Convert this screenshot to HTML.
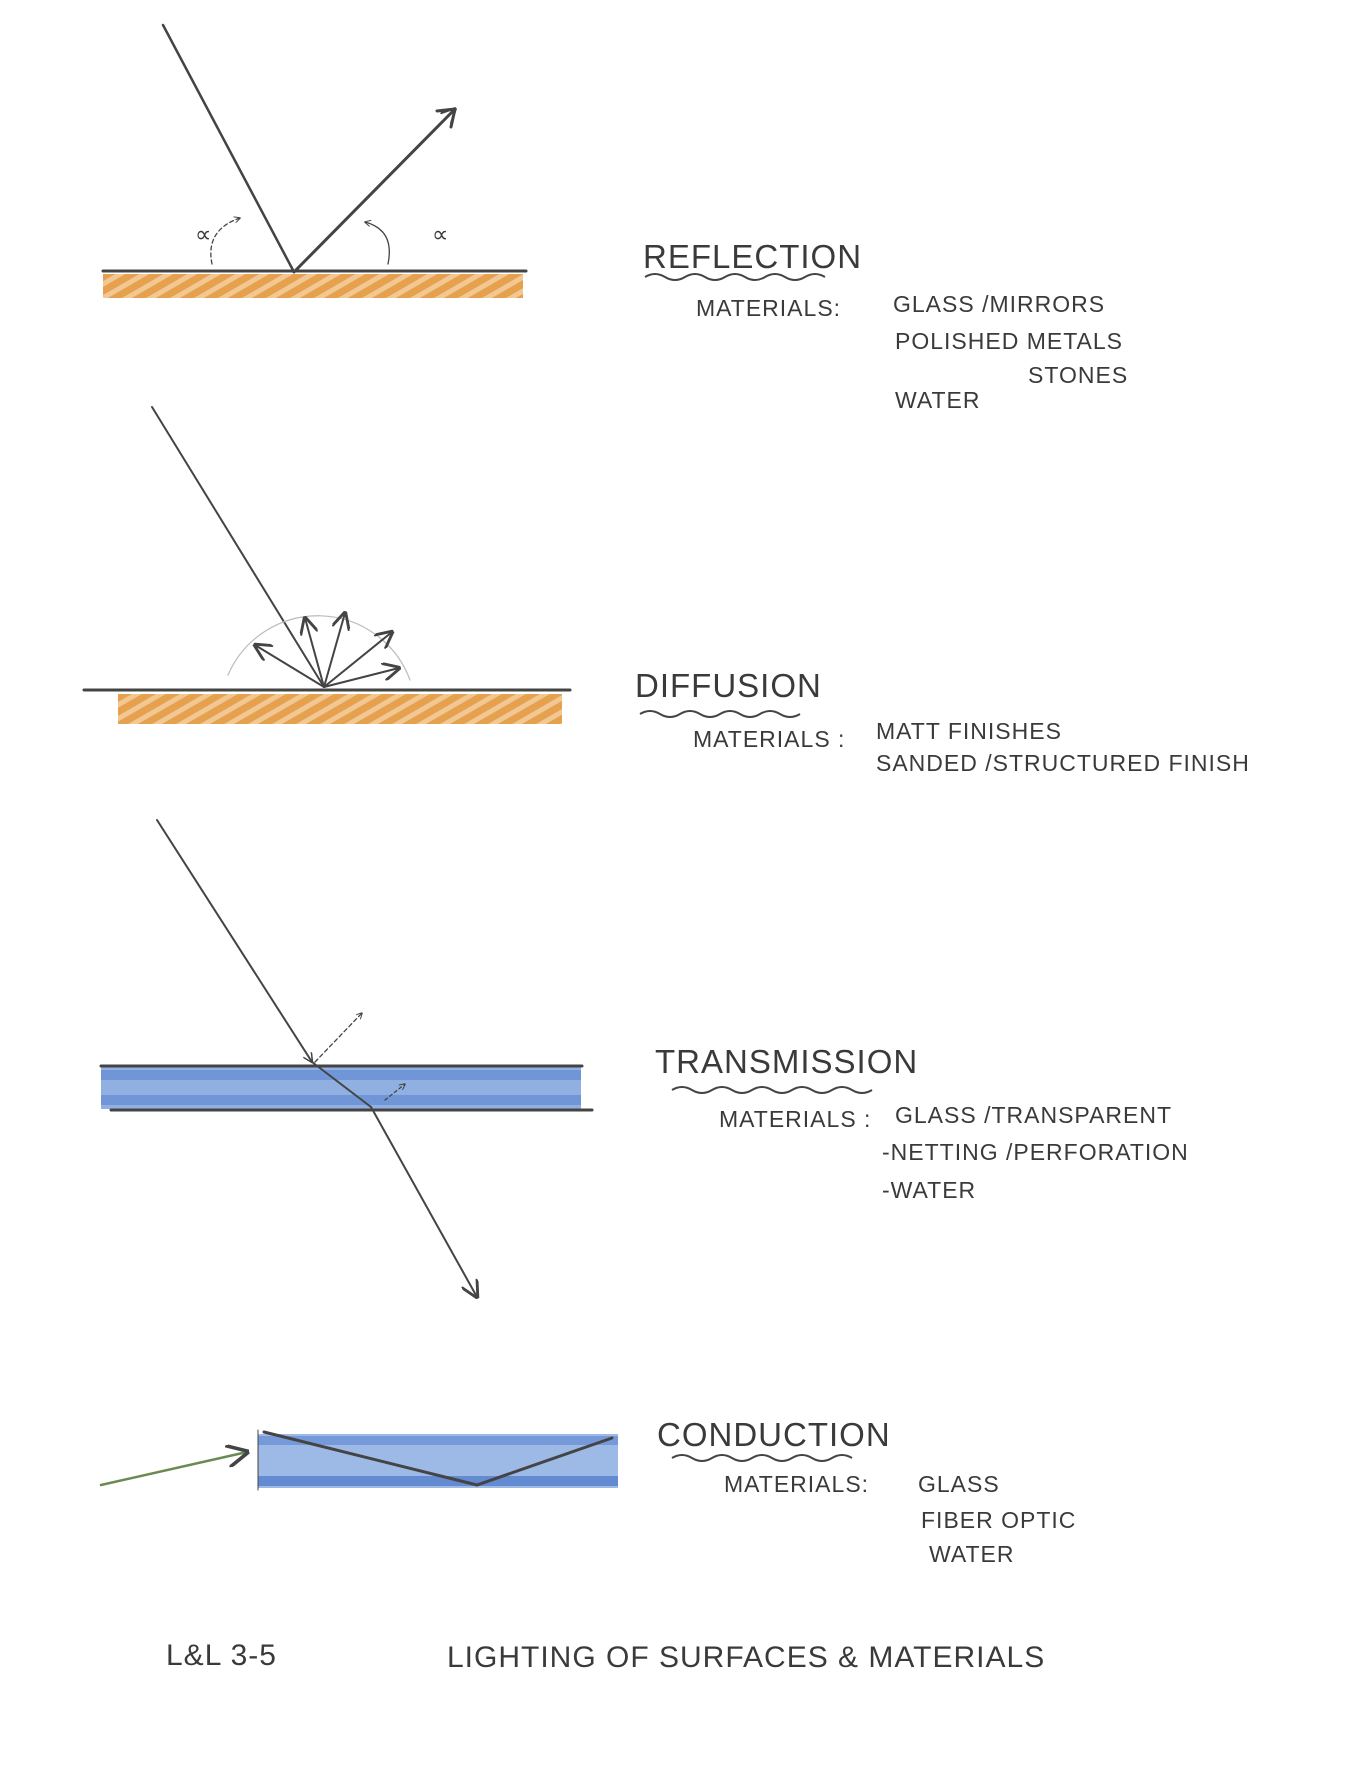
<!DOCTYPE html>
<html><head><meta charset="utf-8"><style>
html,body{margin:0;padding:0;background:#fff}
svg{display:block}
text{font-family:"Liberation Sans",sans-serif;fill:#3a3a3a}
.t{font-size:33px;letter-spacing:1px}
.m{font-size:23px;letter-spacing:1px}
</style></head><body>
<svg width="1348" height="1769" viewBox="0 0 1348 1769" xmlns="http://www.w3.org/2000/svg">
<defs>
<pattern id="h" width="12" height="12" patternUnits="userSpaceOnUse" patternTransform="rotate(-30)">
<rect width="12" height="12" fill="#f0bd80"/><rect width="12" height="7" fill="#e0902e"/>
</pattern>
<marker id="a" viewBox="0 0 10 10" refX="9" refY="5" markerWidth="9" markerHeight="9" orient="auto-start-reverse"><path d="M0 0 L10 5 L0 10" fill="none" stroke="#444" stroke-width="1.6"/></marker>
<marker id="s" viewBox="0 0 10 10" refX="9" refY="5" markerWidth="5" markerHeight="5" orient="auto"><path d="M0 0 L10 5 L0 10" fill="none" stroke="#444" stroke-width="1.5"/></marker>
</defs>
<g stroke="#444" fill="none" stroke-linecap="round">
<!-- Reflection -->
<rect x="103" y="274" width="420" height="24" fill="url(#h)" stroke="none" opacity="0.85"/>
<line x1="103" y1="271" x2="526" y2="271" stroke-width="3"/>
<line x1="163" y1="25" x2="294" y2="272" stroke-width="2.5"/>
<line x1="294" y1="272" x2="455" y2="109" stroke-width="3" marker-end="url(#s)" />
<path d="M455 109 l-18 2 M455 109 l-4 18" stroke-width="3"/>
<path d="M212 264 Q205 230 240 218" stroke-width="1.3" stroke-dasharray="4 3" marker-end="url(#s)"/>
<path d="M388 264 Q395 230 365 222" stroke-width="1.3" marker-end="url(#s)"/>
<!-- Diffusion -->
<rect x="118" y="694" width="444" height="30" fill="url(#h)" stroke="none" opacity="0.85"/>
<line x1="84" y1="690" x2="570" y2="690" stroke-width="3"/>
<line x1="152" y1="407" x2="324" y2="687" stroke-width="2"/>
<path d="M228 675 A98 98 0 0 1 410 680" stroke="#bbb" stroke-width="1.2"/>
<g stroke-width="2" marker-end="url(#a)">
<line x1="324" y1="687" x2="305" y2="618"/>
<line x1="324" y1="687" x2="345" y2="613"/>
<line x1="324" y1="687" x2="392" y2="632"/>
<line x1="324" y1="687" x2="399" y2="668"/>
<line x1="324" y1="687" x2="255" y2="645"/>
</g>
<!-- Transmission -->
<rect x="101" y="1067" width="480" height="42" fill="#8fb0e0" stroke="none"/>
<rect x="101" y="1070" width="480" height="10" fill="#5b86d0" stroke="none" opacity="0.6"/>
<rect x="101" y="1095" width="480" height="10" fill="#5b86d0" stroke="none" opacity="0.6"/>
<line x1="101" y1="1066" x2="582" y2="1066" stroke-width="3"/>
<line x1="111" y1="1110" x2="592" y2="1110" stroke-width="3"/>
<line x1="157" y1="820" x2="312" y2="1062" stroke-width="2" marker-end="url(#s)"/>
<line x1="312" y1="1062" x2="371" y2="1107" stroke-width="2"/>
<line x1="371" y1="1107" x2="477" y2="1297" stroke-width="2" marker-end="url(#a)"/>
<line x1="315" y1="1062" x2="362" y2="1013" stroke-width="1.3" stroke-dasharray="4 3" marker-end="url(#s)"/>
<line x1="385" y1="1100" x2="405" y2="1084" stroke-width="1.3" stroke-dasharray="3 3" marker-end="url(#s)"/>
<!-- Conduction -->
<rect x="258" y="1434" width="360" height="54" fill="#9db9e6" stroke="none"/>
<rect x="258" y="1436" width="360" height="9" fill="#5b86d0" stroke="none" opacity="0.6"/>
<rect x="258" y="1476" width="360" height="10" fill="#4a78c8" stroke="none" opacity="0.7"/>
<line x1="258" y1="1430" x2="258" y2="1490" stroke-width="1"/>
<line x1="101" y1="1485" x2="247" y2="1452" stroke="#6a8a50" stroke-width="2.5" marker-end="url(#a)"/>
<polyline points="264,1432 477,1485 612,1438" stroke-width="3"/>
</g>
<g fill="none" stroke="#444" stroke-width="2">
<path d="M645 277 q10 -6 20 0 t20 0 t20 0 t20 0 t20 0 t20 0 t20 0 t20 0 t20 0"/>
<path d="M640 714 q10 -6 20 0 t20 0 t20 0 t20 0 t20 0 t20 0 t20 0 t20 0"/>
<path d="M672 1090 q10 -6 20 0 t20 0 t20 0 t20 0 t20 0 t20 0 t20 0 t20 0 t20 0 t20 0"/>
<path d="M672 1458 q10 -6 20 0 t20 0 t20 0 t20 0 t20 0 t20 0 t20 0 t20 0 t20 0"/>
</g>
<text x="195" y="242" class="m">∝</text>
<text x="432" y="242" class="m">∝</text>
<text x="643" y="268" class="t">REFLECTION</text>
<text x="696" y="316" class="m">MATERIALS:</text>
<text x="893" y="312" class="m">GLASS /MIRRORS</text>
<text x="895" y="349" class="m">POLISHED METALS</text>
<text x="1028" y="383" class="m">STONES</text>
<text x="895" y="408" class="m">WATER</text>
<text x="635" y="697" class="t">DIFFUSION</text>
<text x="693" y="747" class="m">MATERIALS :</text>
<text x="876" y="739" class="m">MATT FINISHES</text>
<text x="876" y="771" class="m">SANDED /STRUCTURED FINISH</text>
<text x="655" y="1073" class="t">TRANSMISSION</text>
<text x="719" y="1127" class="m">MATERIALS :</text>
<text x="895" y="1123" class="m">GLASS /TRANSPARENT</text>
<text x="882" y="1160" class="m">-NETTING /PERFORATION</text>
<text x="882" y="1198" class="m">-WATER</text>
<text x="657" y="1446" class="t">CONDUCTION</text>
<text x="724" y="1492" class="m">MATERIALS:</text>
<text x="918" y="1492" class="m">GLASS</text>
<text x="921" y="1528" class="m">FIBER OPTIC</text>
<text x="929" y="1562" class="m">WATER</text>
<text x="166" y="1665" class="t" style="font-size:30px">L&amp;L 3-5</text>
<text x="447" y="1667" class="t" style="font-size:30px">LIGHTING OF SURFACES &amp; MATERIALS</text>
</svg>
</body></html>
